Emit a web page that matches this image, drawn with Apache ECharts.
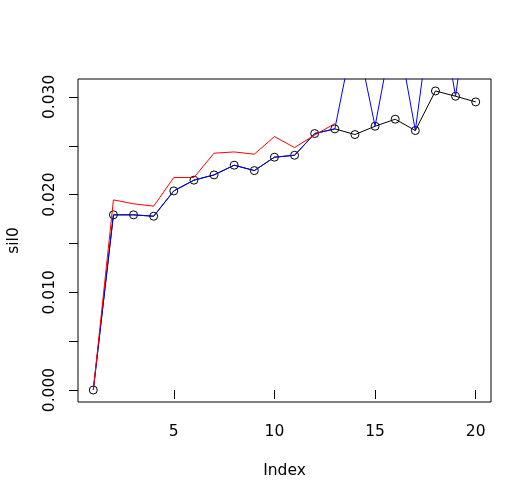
<!DOCTYPE html>
<html>
<head>
<meta charset="utf-8">
<script src="https://cdn.jsdelivr.net/npm/echarts@6/dist/echarts.min.js"></script>
<style>
html,body{margin:0;padding:0;background:#fff;}
#c{width:531px;height:500px;}
</style>
</head>
<body>
<div id="c"></div>
<script>
var index = [1,2,3,4,5,6,7,8,9,10,11,12,13,14,15,16,17,18,19,20];
var sil0 = [0, 0.01793, 0.01793, 0.01779, 0.02038, 0.02148, 0.02202, 0.02301, 0.02246, 0.02383,
            0.02403, 0.02625, 0.02673, 0.02615, 0.02700, 0.02772, 0.02656, 0.03061, 0.03007, 0.02949];
var redVals = [0, 0.01946, 0.01906, 0.01882, 0.02175, 0.02175, 0.02424, 0.02437, 0.02414, 0.02594,
               0.02482, 0.02610, 0.02727, null, null, null, null, null, null, null];
var blueVals = [0, 0.01793, 0.01793, 0.01779, 0.02038, 0.02148, 0.02202, 0.02301, 0.02246, 0.02383,
                0.02403, 0.02625, 0.02673, 0.03700, 0.02700, 0.03800, 0.02656, 0.04200, 0.03007, 0.04500];
var xTicks = [5, 10, 15, 20];
var yTicks = [0, 0.005, 0.010, 0.015, 0.020, 0.025, 0.030];
var yLabels = [0, 0.010, 0.020, 0.030];

function pairs(xs, ys) { return xs.map(function (x, i) { return [x, ys[i]]; }); }

var xMin = 1 - 0.04 * 19, xMax = 20 + 0.04 * 19;
var yMaxData = Math.max.apply(null, sil0);
var yMin = -0.04 * yMaxData, yMax = yMaxData * 1.04;
var FONT = 'DejaVu Sans';
var FS = 15.5;

var chart = echarts.init(document.getElementById('c'), null, {renderer: 'canvas'});
chart.setOption({
  animation: false,
  backgroundColor: '#fff',
  grid: {
    left: 78, right: 40, top: 79, bottom: 98,
    show: true, borderColor: '#000', borderWidth: 1, backgroundColor: 'transparent',
    outerBoundsMode: 'none'
  },
  xAxis: {
    type: 'value', min: xMin, max: xMax,
    name: 'Index', nameLocation: 'middle', nameGap: 61,
    nameTextStyle: {fontFamily: FONT, fontSize: FS, color: '#000'},
    axisLine: {show: false},
    axisTick: {show: true, length: 9, customValues: xTicks, lineStyle: {color: '#000', width: 1}},
    axisLabel: {customValues: xTicks, margin: 22, fontFamily: FONT, fontSize: FS, color: '#000'},
    splitLine: {show: false}
  },
  yAxis: {
    type: 'value', min: yMin, max: yMax,
    name: 'sil0', nameLocation: 'middle', nameGap: 56, nameRotate: 90,
    nameTextStyle: {fontFamily: FONT, fontSize: FS, color: '#000'},
    axisLine: {show: false},
    axisTick: {show: true, length: 9, customValues: yTicks, lineStyle: {color: '#000', width: 1}},
    axisLabel: {customValues: yLabels, rotate: 90, margin: 20, fontFamily: FONT, fontSize: FS, color: '#000',
      formatter: function (v) { return v.toFixed(3); }},
    splitLine: {show: false}
  },
  series: [
    {
      type: 'line', data: pairs(index, sil0), z: 2,
      lineStyle: {color: '#000', width: 1},
      symbol: 'circle', symbolSize: 8,
      itemStyle: {color: 'transparent', borderColor: '#000', borderWidth: 1},
      showAllSymbol: true
    },
    {
      type: 'line', data: pairs(index, blueVals), z: 3,
      lineStyle: {color: '#0000ff', width: 1},
      symbol: 'none', clip: true
    },
    {
      type: 'line', data: pairs(index, redVals), z: 4, connectNulls: false,
      lineStyle: {color: '#ff0000', width: 1},
      symbol: 'none', clip: true
    }
  ]
});
</script>
</body>
</html>
